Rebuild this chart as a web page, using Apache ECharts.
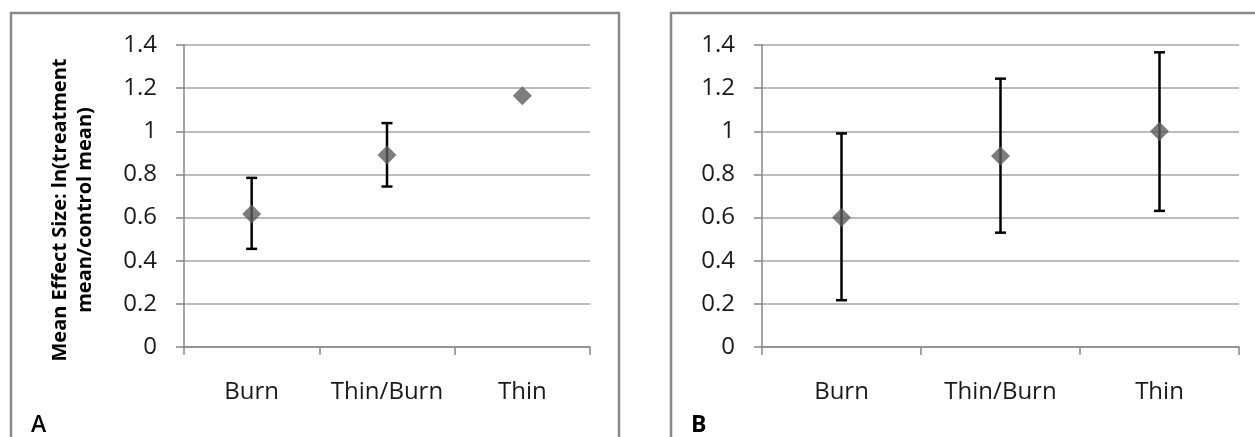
<!DOCTYPE html>
<html>
<head>
<meta charset="utf-8">
<script src="https://cdn.jsdelivr.net/npm/echarts@6/dist/echarts.min.js"></script>
<style>
html,body{margin:0;padding:0;background:#fff;}
#c{width:1255px;height:437px;}
</style>
</head>
<body>
<div id="c"></div>
<script>
const categories = ['Burn', 'Thin/Burn', 'Thin'];
const meanA = [0.617, 0.89, 1.165];
const lowA = [0.455, 0.744, null];
const highA = [0.784, 1.038, null];
const meanB = [0.60, 0.886, 1.0];
const lowB = [0.217, 0.53, 0.631];
const highB = [0.99, 1.244, 1.366];
const yTitleLines = ['Mean Effect Size: ln(treatment', 'mean/control mean)'];
const panelLabels = ['A', 'B'];

const FONT = '"Open Sans", "Noto Sans", sans-serif';
const chart = echarts.init(document.getElementById('c'), null, {renderer: 'canvas'});

function errData(low, high) {
  return categories.map((c, i) => (low[i] == null ? null : [i, low[i], high[i]])).filter(d => d);
}
function errSeries(idx, low, high) {
  return {
    type: 'custom', xAxisIndex: idx, yAxisIndex: idx, z: 2,
    data: errData(low, high),
    renderItem: function (params, api) {
      const x = api.value(0);
      const lo = api.coord([x, api.value(1)]);
      const hi = api.coord([x, api.value(2)]);
      const w = 5.5;
      const st = {stroke: '#000', lineWidth: 2.5};
      return {
        type: 'group',
        children: [
          {type: 'line', shape: {x1: lo[0], y1: lo[1], x2: hi[0], y2: hi[1]}, style: st},
          {type: 'line', shape: {x1: lo[0] - w, y1: lo[1], x2: lo[0] + w, y2: lo[1]}, style: st},
          {type: 'line', shape: {x1: hi[0] - w, y1: hi[1], x2: hi[0] + w, y2: hi[1]}, style: st}
        ]
      };
    }
  };
}
function xAx(idx) {
  return {
    type: 'category', gridIndex: idx, data: categories, boundaryGap: true,
    axisLine: {lineStyle: {color: '#868686', width: 1.5}},
    axisTick: {show: true, length: 8, lineStyle: {color: '#868686', width: 1.5}},
    axisLabel: {interval: 0, fontFamily: FONT, fontSize: 24, color: '#1a1a1a', margin: 33}
  };
}
function yAx(idx) {
  return {
    type: 'value', gridIndex: idx, min: 0, max: 1.4, interval: 0.2,
    axisLine: {show: true, lineStyle: {color: '#868686', width: 1.5}},
    axisTick: {show: true, length: 8, lineStyle: {color: '#868686', width: 1.5}},
    splitLine: {lineStyle: {color: '#a6a6a6', width: 1.5}},
    axisLabel: {fontFamily: FONT, fontSize: 24, color: '#1a1a1a', margin: 27,
      formatter: v => String(parseFloat(v.toFixed(1)))}
  };
}

chart.setOption({
  animation: false,
  grid: [
    {left: 184, top: 45, width: 406, height: 302},
    {left: 762, top: 45, width: 477, height: 302}
  ],
  xAxis: [xAx(0), xAx(1)],
  yAxis: [yAx(0), yAx(1)],
  series: [
    errSeries(0, lowA, highA),
    {type: 'scatter', xAxisIndex: 0, yAxisIndex: 0, z: 3, symbol: 'diamond', symbolSize: 19,
      itemStyle: {color: '#5d5d5d'}, data: meanA.map((v, i) => [i, v])},
    errSeries(1, lowB, highB),
    {type: 'scatter', xAxisIndex: 1, yAxisIndex: 1, z: 3, symbol: 'diamond', symbolSize: 19,
      itemStyle: {color: '#5d5d5d'}, data: meanB.map((v, i) => [i, v])}
  ],
  graphic: [
    {type: 'rect', shape: {x: 11, y: 13, width: 608, height: 500}, style: {fill: 'none', stroke: '#898989', lineWidth: 2.5}, z: 0},
    {type: 'rect', shape: {x: 671, y: 13, width: 700, height: 500}, style: {fill: 'none', stroke: '#898989', lineWidth: 2.5}, z: 0},
    {type: 'text', x: 73, y: 210, rotation: Math.PI / 2,
      style: {text: yTitleLines.join('\n'), fontFamily: FONT, fontWeight: 'bold', fontSize: 20, fill: '#000',
        align: 'center', verticalAlign: 'middle', lineHeight: 25}},
    {type: 'text', x: 31, y: 425, style: {text: panelLabels[0], fontFamily: FONT, fontWeight: 600, fontSize: 23, fill: '#000', verticalAlign: 'middle'}},
    {type: 'text', x: 691, y: 425, style: {text: panelLabels[1], fontFamily: FONT, fontWeight: 'bold', fontSize: 23, fill: '#000', verticalAlign: 'middle'}}
  ]
});
</script>
</body>
</html>
